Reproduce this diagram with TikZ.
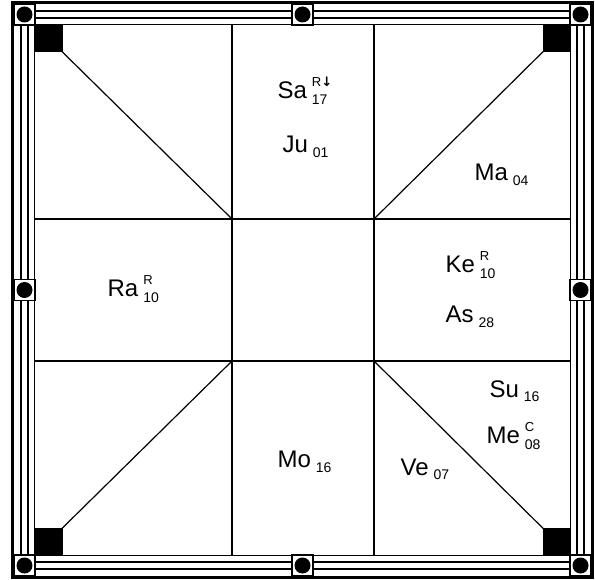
\documentclass[tikz,border=0pt]{standalone}
\usepackage{fontspec}
\setmainfont{Liberation Sans}
\newfontfamily\arrfont{DejaVu Sans}
\newcommand\plsub[1]{\hspace{5pt}\raisebox{-5pt}{\fontsize{14}{14}\selectfont #1}}
\newcommand\plsupsub[2]{\hspace{5pt}\rlap{\raisebox{12pt}{\fontsize{13}{13}\selectfont #1}}\raisebox{-6pt}{\fontsize{14}{14}\selectfont #2}}
\begin{document}
\begin{tikzpicture}[x=1pt,y=-1pt,line width=1.2pt,
  pl/.style={anchor=base west,inner sep=0pt,font=\fontsize{24}{24}\selectfont},
  bandline/.style={line width=1.1pt},
  knob/.style={fill=white,draw=black,line width=1.1pt},
  corner/.style={fill=black}]
\useasboundingbox (0,0) rectangle (595,580);
\fill[white] (0,0) rectangle (595,580);
% band lines
\foreach \y in {11,18,562,569} \draw[bandline] (14,\y) -- (591,\y);
\foreach \x in {21,28,577,584} \draw[bandline] (\x,4) -- (\x,576);
% outer frame
\draw[line width=3pt] (12.5,2.5) rectangle (592.5,577.5);
% knob boxes
\foreach \cx/\cy in {24.5/14.5, 302.5/14.5, 580.5/14.5, 24.5/290, 580.5/290, 24.5/565.5, 302.5/565.5, 580.5/565.5}{
  \draw[knob] (\cx-10.5,\cy-10.5) rectangle (\cx+10.5,\cy+10.5);
  \fill (\cx,\cy) circle (8);
}
% inner square
\coordinate (TL) at (34.5,24.5);
\coordinate (TR) at (570.5,24.5);
\coordinate (BL) at (34.5,555.5);
\coordinate (BR) at (570.5,555.5);
\coordinate (c1) at (232,219);
\coordinate (c2) at (374,219);
\coordinate (c3) at (232,361);
\coordinate (c4) at (374,361);
\draw (TL) rectangle (BR);
\draw (232,24.5) -- (232,555.5);
\draw (374,24.5) -- (374,555.5);
\draw (34.5,219) -- (570.5,219);
\draw (34.5,361) -- (570.5,361);
% diagonals
\draw (TL) -- (c1);
\draw (TR) -- (c2);
\draw (BL) -- (c3);
\draw (BR) -- (c4);
% corner squares
\fill[corner] (34.5,24.5) rectangle (62.5,52.5);
\fill[corner] (542.5,24.5) rectangle (570.5,52.5);
\fill[corner] (34.5,527.5) rectangle (62.5,555.5);
\fill[corner] (542.5,527.5) rectangle (570.5,555.5);
% planets
\node[pl] (sa) at (277,99) {Sa\plsupsub{R{\arrfont\bfseries\fontsize{13}{13}\selectfont ↓}}{17}};
\node[pl] (ju) at (282,153) {Ju\plsub{01}};
\node[pl] (ma) at (474,181) {Ma\plsub{04}};
\node[pl] (ra) at (107,297) {Ra\plsupsub{R}{10}};
\node[pl] (ke) at (445,273) {Ke\plsupsub{R}{10}};
\node[pl] (as) at (445,323) {As\plsub{28}};
\node[pl] (su) at (489,397) {Su\plsub{16}};
\node[pl] (me) at (486,443) {Me\plsupsub{C}{08}};
\node[pl] (mo) at (277,467) {Mo\plsub{16}};
\node[pl] (ve) at (400,475) {Ve\plsub{07}};
\end{tikzpicture}
\end{document}
